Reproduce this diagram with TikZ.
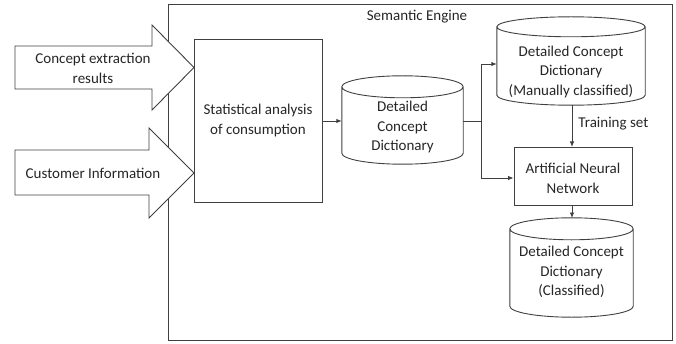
\documentclass[tikz,border=0pt]{standalone}
\usepackage{fontspec}
\setmainfont{Carlito}
\usetikzlibrary{arrows.meta,calc}

\tikzset{
  line/.style={draw=black!75, line width=0.9pt},
  conn/.style={line, -{Latex[length=5.5pt,width=4.5pt]}},
  plain/.style={line},
  lbl/.style={text=black!85, font=\fontsize{15}{19.5}\selectfont, align=center, inner sep=0pt},
  procbox/.style={line, fill=white, inner sep=0pt},
  cylarea/.style={inner sep=0pt},
}

% cylinder drawn round a node: #1 name, #2 y radius of the end ellipses
\newcommand\cylinderround[2]{%
  \path let \p1=(#1.north west), \p2=(#1.south east) in
    [line, fill=white]
    (\x1,\y1-#2) -- (\x1,\y2+#2)
    arc[start angle=180, end angle=360, x radius={(\x2-\x1)/2}, y radius=#2]
    -- (\x2,\y1-#2)
    arc[start angle=0, end angle=180, x radius={(\x2-\x1)/2}, y radius=#2]
    -- cycle
    (\x1,\y1-#2)
    arc[start angle=180, end angle=360, x radius={(\x2-\x1)/2}, y radius=#2];
}

\begin{document}
\begin{tikzpicture}[x=1pt, y=1pt]
  \useasboundingbox (0,0) rectangle (676,343);

  % engine frame
  \node[line, minimum width=504pt, minimum height=336pt, inner sep=0pt] (engine) at (420,171) {};
  \node[lbl] (enginelbl) at (417,326) {Semantic Engine};

  % input arrows
  \coordinate (tipA) at (194,275.5);
  \path[line, fill=white] (15,297) -- (152,297) -- (152,318) -- (tipA)
       -- (152,233) -- (152,254) -- (15,254) -- cycle;
  \node[lbl] (inA) at (93,274.5) {Concept extraction\\results};

  \coordinate (tipB) at (194,170);
  \path[line, fill=white] (15,193) -- (149,193) -- (149,215) -- (tipB)
       -- (149,125) -- (149,148) -- (15,148) -- cycle;
  \node[lbl] (inB) at (93,170) {Customer Information};

  % statistical analysis
  \node[procbox, minimum width=128pt, minimum height=163pt] (stat) at (258,222.5) {};
  \node[lbl] (statlbl) at (258,222.5) {Statistical analysis\\of consumption};

  % dictionaries
  \node[cylarea, minimum width=121pt, minimum height=88pt] (d1) at (402.5,223) {};
  \cylinderround{d1}{11pt}
  \node[lbl] (d1lbl) at (402.5,215.5) {Detailed\\Concept\\Dictionary};

  \node[cylarea, minimum width=148pt, minimum height=88pt] (d2) at (571,282) {};
  \cylinderround{d2}{10pt}
  \node[lbl] (d2lbl) at (571,271) {Detailed Concept\\Dictionary\\(Manually classified)};

  \node[cylarea, minimum width=123pt, minimum height=99pt] (d3) at (571.5,75.5) {};
  \cylinderround{d3}{11pt}
  \node[lbl] (d3lbl) at (571.5,71) {Detailed Concept\\Dictionary\\(Classified)};

  % neural network
  \node[procbox, minimum width=118pt, minimum height=58pt] (ann) at (573,167) {};
  \node[lbl] (annlbl) at (573,164.5) {Artificial Neural\\Network};

  % connectors
  \draw[conn] (stat.east |- 0,222) -- (d1.west |- 0,222);
  \coordinate (split) at (481,222);
  \draw[plain] (d1.east |- 0,222) -- (split);
  \draw[conn] (split) |- (d2.west |- 0,279);
  \draw[conn] (split) |- (ann.west |- 0,165);
  \draw[conn] (572,238) -- (572,196) node[lbl, pos=0.45, anchor=west, xshift=6pt] (trainlbl) {Training set};
  \draw[conn] (572,138) -- (572,125);
\end{tikzpicture}
\end{document}
